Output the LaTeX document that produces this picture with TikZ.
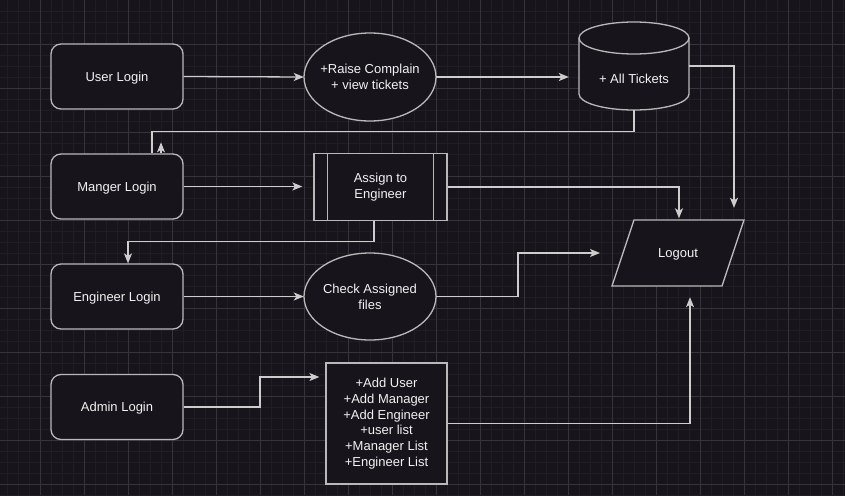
\documentclass[tikz,border=0pt]{standalone}
\usepackage{fontspec}
\setmainfont{Liberation Sans}
\usetikzlibrary{arrows.meta,shapes.geometric}
\definecolor{bg}{RGB}{23,20,28}
\definecolor{nodefill}{RGB}{23,20,27}
\definecolor{minorgrid}{RGB}{32,29,37}
\definecolor{majorgrid}{RGB}{55,52,60}
\definecolor{border}{RGB}{185,185,185}
\definecolor{edge}{RGB}{205,205,205}
\definecolor{txt}{RGB}{242,242,242}
\tikzset{
  minorline/.style={draw=minorgrid,line width=0.6pt},
  majorline/.style={draw=majorgrid,line width=0.7pt},
  box/.style={draw=border,fill=nodefill,line width=1.3pt,inner sep=0pt,text=txt,align=center,
    font=\fontsize{13}{15.7}\selectfont},
  loginbox/.style={box,rectangle,rounded corners=10pt,minimum width=132pt,minimum height=65pt,text depth=0pt},
  plain/.style={inner sep=0pt,text=txt,align=center,font=\fontsize{13}{15.7}\selectfont},
  shapeline/.style={draw=border,fill=nodefill,line width=1.3pt},
  arr/.style={draw=edge,line width=1.3pt,-{Stealth[length=10pt,width=8pt,inset=2.5pt]}},
  link/.style={draw=edge,line width=1.3pt}
}
\begin{document}
\begin{tikzpicture}[x=1pt,y=-1pt]
\fill[bg] (0,0) rectangle (845,495);
\useasboundingbox (0,0) rectangle (845,495);
% grid
\foreach \x in {7,18,...,845} \draw[minorline] (\x,0) -- (\x,495);
\foreach \y in {11,22,...,495} \draw[minorline] (0,\y) -- (845,\y);
\foreach \x in {40,84,...,845} \draw[majorline] (\x,0) -- (\x,495);
\foreach \y in {44,88,...,495} \draw[majorline] (0,\y) -- (845,\y);

% login boxes
\node[loginbox] (ul) at (117,76.5) {User Login};
\node[loginbox] (ml) at (117,186.5) {Manger Login};
\node[loginbox] (el) at (117,296.5) {Engineer Login};
\node[loginbox] (al) at (117,407) {Admin Login};

% ellipses
\filldraw[shapeline] (370,77) ellipse[x radius=66,y radius=44];
\node[plain,minimum width=132pt,minimum height=88pt] (rc) at (370,77) {+Raise Complain\\+ view tickets};
\filldraw[shapeline] (370,296.5) ellipse[x radius=66,y radius=43.5];
\node[plain,minimum width=132pt,minimum height=87pt] (ca) at (370,296.5) {Check Assigned\\files};

% process box
\node[box,rectangle,minimum width=133pt,minimum height=67pt] (as) at (380.5,187) {Assign to\\Engineer};
\draw[shapeline] ([xshift=14pt]as.north west) -- ([xshift=14pt]as.south west);
\draw[shapeline] ([xshift=-14pt]as.north east) -- ([xshift=-14pt]as.south east);

% list box
\node[box,rectangle,minimum width=121pt,minimum height=121pt] (lst) at (386.5,423.5)
  {+Add User\\+Add Manager\\+Add Engineer\\+user list\\+Manager List\\+Engineer List};

% cylinder
\node[inner sep=0pt,minimum width=110pt,minimum height=88pt] (db) at (634,66) {};
\filldraw[shapeline] (579,38) -- (579,94) arc[start angle=180,end angle=0,x radius=55,y radius=16]
  -- (689,38) arc[start angle=0,end angle=-180,x radius=55,y radius=16] -- cycle;
\draw[shapeline,fill=none] (579,38) arc[start angle=180,end angle=0,x radius=55,y radius=16];
\node[plain,text depth=0pt] (dbt) at (634,79) {+ All Tickets};

% logout parallelogram
\node[inner sep=0pt,minimum width=88pt,minimum height=66pt] (lo) at (678,253) {};
\filldraw[shapeline] (634,220) -- (744,220) -- (722,286) -- (612,286) -- cycle;
\node[plain,text depth=0pt] (lot) at (678,253) {Logout};

% connectors
\draw[arr] (ul.east) -- (rc.west);
\draw[arr,shorten >=10pt] (rc.east) -- (rc.east -| db.west);

\coordinate (m1) at (152,131.5);
\draw[link] (db.south) |- (m1) -- (m1 |- ml.north);
\draw[arr] ([xshift=44pt]ml.north) -- ++(0,-11);

\draw[arr,shorten >=11pt] (ml.east) -- (ml.east -| as.west);
\draw[arr,shorten >=1.5pt] (as.east) -| ([xshift=1pt]lo.north);
\draw[arr,shorten >=12pt] (db.east) -| ([xshift=56pt]lo.north);

\coordinate (e1) at (374,241.5);
\draw[arr] (e1 |- as.south) -- (e1) -| ([xshift=11pt]el.north);

\draw[arr] (el.east) -- (ca.west);

\coordinate (k1) at (518,253);
\draw[arr] (ca.east) -| (k1) -- ([xshift=-78pt]lo.center);

\coordinate (a1) at (260,377);
\draw[arr,shorten >=6pt] (al.east) -| (a1) -- (a1 -| lst.west);

\draw[arr,shorten >=11pt] (lst.east) -| ([xshift=12pt]lo.south);
\end{tikzpicture}
\end{document}
